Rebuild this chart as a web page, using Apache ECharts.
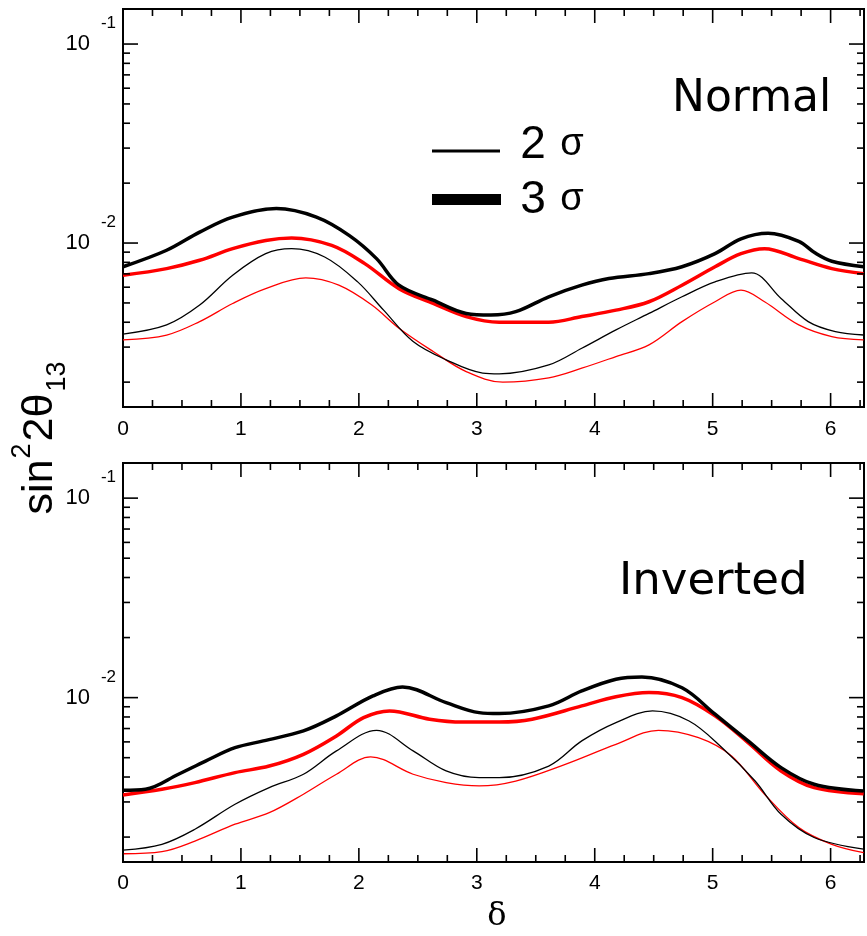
<!DOCTYPE html>
<html>
<head>
<meta charset="utf-8">
<script src="https://cdn.jsdelivr.net/npm/echarts@6/dist/echarts.min.js"></script>
<style>
  html, body { margin: 0; padding: 0; background: #fff; }
  #chart { width: 867px; height: 936px; }
</style>
</head>
<body>
<div id="chart"></div>
<script>
// ---------------- data ----------------
// Normal hierarchy (top panel)
const n3BlackX = [0, 0.37, 0.65, 0.93, 1.30, 1.64, 1.92, 2.15, 2.34, 2.63, 2.91, 3.12, 3.33, 3.61, 3.89, 4.12, 4.46, 4.74, 5.02, 5.24, 5.47, 5.73, 5.87, 6.01, 6.28];
const n3BlackY = [0.0076, 0.0092, 0.01135, 0.0135, 0.0149, 0.0135, 0.0109, 0.00835, 0.00614, 0.00516, 0.00443, 0.00435, 0.00452, 0.00537, 0.00614, 0.00663, 0.00702, 0.0076, 0.00884, 0.0105, 0.0112, 0.0102, 0.0089, 0.0081, 0.0076];
const n3RedX = [0, 0.37, 0.65, 0.93, 1.21, 1.43, 1.77, 2.05, 2.34, 2.63, 2.91, 3.19, 3.61, 3.89, 4.18, 4.46, 4.74, 5.02, 5.24, 5.44, 5.73, 6.01, 6.28];
const n3RedY = [0.00689, 0.00744, 0.00819, 0.00937, 0.0103, 0.0106, 0.00973, 0.00788, 0.0059, 0.00497, 0.00427, 0.0040, 0.0040, 0.00427, 0.0046, 0.00507, 0.00614, 0.0076, 0.00884, 0.00937, 0.00835, 0.00744, 0.00702];
const n2BlackX = [0, 0.37, 0.65, 0.93, 1.21, 1.43, 1.71, 1.99, 2.21, 2.46, 2.74, 3.05, 3.19, 3.61, 3.89, 4.18, 4.46, 4.74, 5.02, 5.33, 5.58, 5.81, 6.04, 6.28];
const n2BlackY = [0.00349, 0.00388, 0.00488, 0.00689, 0.00884, 0.00937, 0.00851, 0.00638, 0.0046, 0.0032, 0.00259, 0.00222, 0.0022, 0.00244, 0.00296, 0.00366, 0.00443, 0.00537, 0.00638, 0.00708, 0.00527, 0.00403, 0.00359, 0.00345];
const n2RedX = [0, 0.37, 0.65, 0.93, 1.21, 1.55, 1.83, 2.11, 2.34, 2.63, 2.91, 3.22, 3.61, 3.89, 4.18, 4.46, 4.74, 5.02, 5.24, 5.44, 5.73, 6.01, 6.28];
const n2RedY = [0.00326, 0.00345, 0.00403, 0.00497, 0.0059, 0.00668, 0.00614, 0.00488, 0.00373, 0.00285, 0.00226, 0.0020, 0.0021, 0.00235, 0.00269, 0.00308, 0.00403, 0.00507, 0.0058, 0.00507, 0.00388, 0.00339, 0.00326];

// Inverted hierarchy (bottom panel)
const i3BlackX = [0, 0.19, 0.47, 0.70, 0.95, 1.19, 1.53, 1.81, 2.12, 2.37, 2.74, 3.02, 3.19, 3.61, 3.89, 4.18, 4.40, 4.74, 5.02, 5.30, 5.58, 5.86, 6.28];
const i3BlackY = [0.00343, 0.00347, 0.00413, 0.00481, 0.00561, 0.00607, 0.00681, 0.0081, 0.0102, 0.0113, 0.00944, 0.00841, 0.00832, 0.00909, 0.0108, 0.01236, 0.0127, 0.0112, 0.00826, 0.00607, 0.00446, 0.00368, 0.0034];
const i3RedX = [0, 0.33, 0.61, 0.95, 1.24, 1.53, 1.81, 2.04, 2.26, 2.60, 2.88, 3.19, 3.47, 3.89, 4.18, 4.46, 4.74, 5.02, 5.30, 5.58, 5.86, 6.28];
const i3RedY = [0.00325, 0.00347, 0.00375, 0.00421, 0.00454, 0.0052, 0.00643, 0.00794, 0.00858, 0.0078, 0.00755, 0.00755, 0.0078, 0.00909, 0.0101, 0.0106, 0.0100, 0.0081, 0.00595, 0.00429, 0.00354, 0.0033];
const i2BlackX = [0, 0.33, 0.61, 0.95, 1.24, 1.53, 1.81, 2.15, 2.46, 2.74, 3.02, 3.19, 3.61, 3.89, 4.18, 4.49, 4.80, 5.08, 5.36, 5.58, 5.86, 6.28];
const i2BlackY = [0.00172, 0.00184, 0.00219, 0.00292, 0.00354, 0.00413, 0.00541, 0.00686, 0.00541, 0.00429, 0.00397, 0.00397, 0.00454, 0.00607, 0.0075, 0.00858, 0.00764, 0.00561, 0.00382, 0.0026, 0.00199, 0.00174];
const i2RedX = [0, 0.33, 0.61, 0.95, 1.24, 1.53, 1.81, 2.10, 2.46, 2.74, 3.02, 3.33, 3.75, 4.18, 4.54, 4.88, 5.16, 5.44, 5.73, 6.01, 6.28];
const i2RedY = [0.00165, 0.00169, 0.00191, 0.00232, 0.00265, 0.00328, 0.00413, 0.00505, 0.00413, 0.00375, 0.00361, 0.00382, 0.00463, 0.00583, 0.00686, 0.0063, 0.0051, 0.00328, 0.00223, 0.00184, 0.00167];

// axes
const xMin = 0, xMax = 2 * Math.PI;
const yMin = 0.0015, yMax = 0.15;
const xMajorTicks = [0, 1, 2, 3, 4, 5, 6];
const xMinorTicks = [0.25, 0.5, 0.75, 1.25, 1.5, 1.75, 2.25, 2.5, 2.75, 3.25, 3.5, 3.75, 4.25, 4.5, 4.75, 5.25, 5.5, 5.75, 6.25];
const yMajorTicks = [0.01, 0.1];
const yMinorTicks = [0.002, 0.003, 0.004, 0.005, 0.006, 0.007, 0.008, 0.009, 0.02, 0.03, 0.04, 0.05, 0.06, 0.07, 0.08, 0.09];
const panelLabels = ['Normal', 'Inverted'];
const legendLabels = ['2', '3'];

// ---------------- chart ----------------
const chart = echarts.init(document.getElementById('chart'), null, { renderer: 'canvas' });
const zip = (xs, ys) => xs.map((x, i) => [x, ys[i]]);
const BLACK = '#000000', RED = '#ff0000';

function tickData() {
  const d = [];
  xMajorTicks.forEach(v => d.push([v, yMin, 14, 0]));
  xMinorTicks.forEach(v => d.push([v, yMin, 7, 0]));
  yMajorTicks.forEach(v => d.push([xMin, v, 15, 1]));
  yMinorTicks.forEach(v => d.push([xMin, v, 7, 1]));
  return d;
}
function renderTick(params, api) {
  const cs = params.coordSys;
  const len = api.value(2), kind = api.value(3);
  const p = api.coord([api.value(0), api.value(1)]);
  const style = { stroke: '#000', lineWidth: 1.6 };
  if (kind === 0) {
    const b = cs.y + cs.height, t = cs.y;
    return { type: 'group', children: [
      { type: 'line', shape: { x1: p[0], y1: b, x2: p[0], y2: b - len }, style },
      { type: 'line', shape: { x1: p[0], y1: t, x2: p[0], y2: t + len }, style }
    ]};
  }
  const l = cs.x, r = cs.x + cs.width;
  return { type: 'group', children: [
    { type: 'line', shape: { x1: l, y1: p[1], x2: l + len, y2: p[1] }, style },
    { type: 'line', shape: { x1: r, y1: p[1], x2: r - len, y2: p[1] }, style }
  ]};
}

const grids = [
  { left: 123, right: -1.5, top: 9, height: 398 },
  { left: 123, right: -1.5, top: 463, height: 399 }
];

function xAxisFor(i, margin) {
  return {
    type: 'value', gridIndex: i, min: xMin, max: xMax, interval: 1,
    axisLine: { show: false }, axisTick: { show: false }, splitLine: { show: false },
    axisLabel: {
      margin: margin, fontSize: 21, color: '#000', fontFamily: 'Liberation Sans',
      formatter: v => (Math.abs(v - Math.round(v)) < 1e-6 ? String(Math.round(v)) : '')
    }
  };
}
function yAxisFor(i) {
  return {
    type: 'log', logBase: 10, gridIndex: i, min: yMin, max: yMax,
    axisLine: { show: false }, axisTick: { show: false }, splitLine: { show: false },
    axisLabel: {
      margin: 7, color: '#000', fontFamily: 'Liberation Sans',
      formatter: v => {
        const l = Math.log10(v), e = Math.round(l);
        if (Math.abs(l - e) > 1e-6) return '';
        return '{b|10}{s|' + e + '}';
      },
      rich: {
        b: { fontSize: 22, lineHeight: 58, fontFamily: 'Liberation Sans', color: '#000' },
        s: { fontSize: 17, lineHeight: 18, verticalAlign: 'top', padding: [0, 0, 0, 11], fontFamily: 'Liberation Sans', color: '#000' }
      }
    }
  };
}
function lineSeries(i, xs, ys, color, width) {
  return {
    type: 'line', xAxisIndex: i, yAxisIndex: i, data: zip(xs, ys),
    smooth: 0.35, showSymbol: false, symbol: 'none', silent: true,
    lineStyle: { color: color, width: width }, z: width > 2 ? 3 : 2
  };
}

const option = {
  animation: false,
  backgroundColor: '#fff',
  grid: grids.map(g => Object.assign({ show: true, borderColor: '#000', borderWidth: 2, backgroundColor: 'transparent' }, g)),
  xAxis: [xAxisFor(0, 12), xAxisFor(1, 11)],
  yAxis: [yAxisFor(0), yAxisFor(1)],
  series: [
    lineSeries(0, n2RedX, n2RedY, RED, 1.3),
    lineSeries(0, n2BlackX, n2BlackY, BLACK, 1.3),
    lineSeries(0, n3RedX, n3RedY, RED, 3.5),
    lineSeries(0, n3BlackX, n3BlackY, BLACK, 3.5),
    lineSeries(1, i2RedX, i2RedY, RED, 1.3),
    lineSeries(1, i2BlackX, i2BlackY, BLACK, 1.3),
    lineSeries(1, i3RedX, i3RedY, RED, 3.5),
    lineSeries(1, i3BlackX, i3BlackY, BLACK, 3.5),
    { type: 'custom', xAxisIndex: 0, yAxisIndex: 0, data: tickData(), renderItem: renderTick, silent: true, z: 5 },
    { type: 'custom', xAxisIndex: 1, yAxisIndex: 1, data: tickData(), renderItem: renderTick, silent: true, z: 5 }
  ],
  graphic: [
    // y-axis title
    { type: 'text', x: 40, y: 438, rotation: Math.PI / 2,
      style: { text: '{a|sin}{p|2}{a|2θ}{q|13}', align: 'center', verticalAlign: 'middle',
        rich: {
          a: { fontSize: 43, lineHeight: 62, fontFamily: 'Liberation Sans', fill: '#000' },
          p: { fontSize: 27, lineHeight: 30, verticalAlign: 'top', padding: [0, 2, 0, 1], fontFamily: 'Liberation Sans', fill: '#000' },
          q: { fontSize: 27, lineHeight: 30, verticalAlign: 'bottom', padding: [0, 0, 0, 2], fontFamily: 'Liberation Sans', fill: '#000' }
        } } },
    // x-axis title
    { type: 'text', x: 497, y: 917, style: { text: 'δ', fontSize: 32, fontFamily: 'DejaVu Serif', fill: '#000', align: 'center', verticalAlign: 'middle' } },
    // panel labels
    { type: 'text', x: 672, y: 100, style: { text: panelLabels[0], fontSize: 44, fontFamily: 'DejaVu Sans', fill: '#000', align: 'left', verticalAlign: 'middle' } },
    { type: 'text', x: 619, y: 582, style: { text: panelLabels[1], fontSize: 45, fontFamily: 'DejaVu Sans', fill: '#000', align: 'left', verticalAlign: 'middle' } },
    // legend
    { type: 'line', shape: { x1: 432, y1: 151, x2: 500, y2: 151 }, style: { stroke: '#000', lineWidth: 3 } },
    { type: 'line', shape: { x1: 432, y1: 199.5, x2: 501, y2: 199.5 }, style: { stroke: '#000', lineWidth: 11 } },
    { type: 'text', x: 533, y: 145, style: { text: legendLabels[0], fontSize: 46, fontFamily: 'Liberation Sans', fill: '#000', align: 'center', verticalAlign: 'middle' } },
    { type: 'text', x: 572, y: 145, style: { text: 'σ', fontSize: 38, fontFamily: 'Liberation Sans', fill: '#000', align: 'center', verticalAlign: 'middle' } },
    { type: 'text', x: 533, y: 200, style: { text: legendLabels[1], fontSize: 46, fontFamily: 'Liberation Sans', fill: '#000', align: 'center', verticalAlign: 'middle' } },
    { type: 'text', x: 572, y: 200, style: { text: 'σ', fontSize: 38, fontFamily: 'Liberation Sans', fill: '#000', align: 'center', verticalAlign: 'middle' } }
  ]
};
chart.setOption(option);
</script>
</body>
</html>
